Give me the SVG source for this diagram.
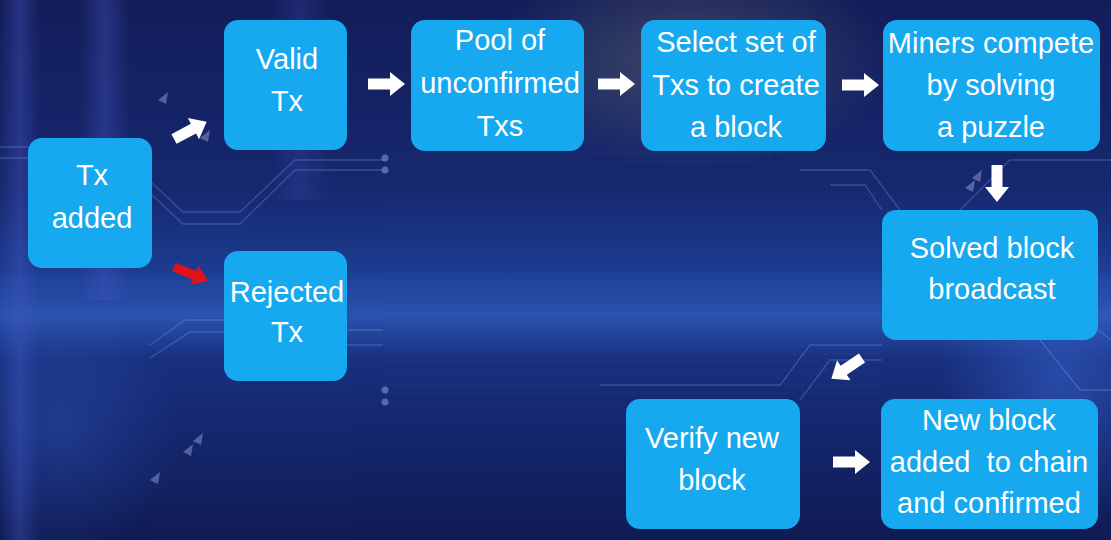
<svg xmlns="http://www.w3.org/2000/svg" width="1111" height="540" viewBox="0 0 1111 540">
  <defs>
    <linearGradient id="bg" x1="0" y1="0" x2="0" y2="1">
      <stop offset="0" stop-color="#131d5a"/>
      <stop offset="0.35" stop-color="#16286f"/>
      <stop offset="0.52" stop-color="#1d3e94"/>
      <stop offset="0.6" stop-color="#1a3586"/>
      <stop offset="0.8" stop-color="#14266d"/>
      <stop offset="1" stop-color="#0f1b54"/>
    </linearGradient>
    <linearGradient id="band" x1="0" y1="0" x2="0" y2="1">
      <stop offset="0" stop-color="#3a6ad0" stop-opacity="0"/>
      <stop offset="0.5" stop-color="#3f74dc" stop-opacity="0.45"/>
      <stop offset="1" stop-color="#3a6ad0" stop-opacity="0"/>
    </linearGradient>
    <linearGradient id="streak" x1="0" y1="0" x2="1" y2="0">
      <stop offset="0" stop-color="#4a5ac8" stop-opacity="0"/>
      <stop offset="0.5" stop-color="#4a5ac8" stop-opacity="0.35"/>
      <stop offset="1" stop-color="#4a5ac8" stop-opacity="0"/>
    </linearGradient>
    <radialGradient id="glow" cx="0.5" cy="0.5" r="0.5">
      <stop offset="0" stop-color="#8a8f70" stop-opacity="0.35"/>
      <stop offset="1" stop-color="#8a8f70" stop-opacity="0"/>
    </radialGradient>
    <radialGradient id="glow2" cx="0.5" cy="0.5" r="0.5">
      <stop offset="0" stop-color="#3d6fe0" stop-opacity="0.45"/>
      <stop offset="1" stop-color="#3d6fe0" stop-opacity="0"/>
    </radialGradient>
    <pattern id="dots" width="8" height="8" patternUnits="userSpaceOnUse">
      <circle cx="2" cy="2" r="1" fill="#8fb0ff" fill-opacity="0.1"/>
    </pattern>
    <path id="arr" d="M0,-5.5 H22 V-12 L37,0 L22,12 V5.5 H0 Z"/>
    <polygon id="tri" points="0,0 10,-8 8,4"/>
  </defs>
  <style>
    .box { fill: #16a9ef; }
    .lbl { font-family: "Liberation Sans", Arial, sans-serif; font-size: 29px; fill: #ffffff; text-anchor: middle; }
    .arrow { fill: #ffffff; }
    .red { fill: #e0121c; }
    .circ { fill: none; stroke: #9fb6ff; stroke-opacity: 0.25; stroke-width: 1.3; }
    .deco { fill: #8a94c8; fill-opacity: 0.55; }
  </style>

  <g id="background">
    <rect width="1111" height="540" fill="url(#bg)"/>
    <rect x="0" y="270" width="1111" height="90" fill="url(#band)"/>
    <rect x="0" y="0" width="40" height="540" fill="url(#streak)"/>
    <rect x="80" y="0" width="50" height="300" fill="url(#streak)"/>
    <rect x="270" y="0" width="60" height="200" fill="url(#streak)" opacity="0.6"/>
    <ellipse cx="690" cy="60" rx="200" ry="110" fill="url(#glow)"/>
    <ellipse cx="1060" cy="380" rx="120" ry="150" fill="url(#glow2)"/>
    <ellipse cx="60" cy="430" rx="120" ry="130" fill="url(#glow2)" opacity="0.6"/>
    <rect x="380" y="150" width="500" height="250" fill="url(#dots)"/>
    <rect x="150" y="380" width="200" height="160" fill="url(#dots)" opacity="0.6"/>
    <path class="circ" d="M0,147 H28 M0,158 H28"/>
    <path class="circ" d="M152,183 L183,212 H240 L295,160 H383 M152,195 L183,224 H240 L295,170 H383"/>
    <circle cx="385" cy="158" r="3.5" fill="#9fb6ff" fill-opacity="0.45"/>
    <circle cx="385" cy="170" r="3.5" fill="#9fb6ff" fill-opacity="0.45"/>
    <path class="circ" d="M150,345 L185,320 H224 M150,358 L190,332 H224"/>
    <path class="circ" d="M347,330 H383 M347,345 H383"/>
    <circle cx="385" cy="390" r="3.5" fill="#9fb6ff" fill-opacity="0.45"/>
    <circle cx="385" cy="402" r="3.5" fill="#9fb6ff" fill-opacity="0.45"/>
    <path class="circ" d="M800,170 H870 L900,210 M830,185 H865 L882,210"/>
    <path class="circ" d="M1098,330 L1111,340 M1040,340 L1080,390 H1111"/>
    <path class="circ" d="M800,400 L830,360 H882 M600,385 H780 L810,345 H882"/>
    <path class="circ" d="M960,210 L1010,160 H1111"/>
    <use href="#tri" class="deco" transform="translate(158,100)"/>
    <use href="#tri" class="deco" transform="translate(200,138)"/>
    <use href="#tri" class="deco" transform="translate(183,452)"/>
    <use href="#tri" class="deco" transform="translate(193,441)"/>
    <use href="#tri" class="deco" transform="translate(150,480)"/>
    <use href="#tri" class="deco" transform="translate(965,188)"/>
    <use href="#tri" class="deco" transform="translate(972,178)"/>
  </g>

  <g id="connectors">
    <use href="#arr" class="arrow" transform="translate(174,139) rotate(-28)"/>
    <use href="#arr" class="red" transform="translate(174,267) rotate(22) scale(1,0.85)"/>
    <use href="#arr" class="arrow" transform="translate(368,84)"/>
    <use href="#arr" class="arrow" transform="translate(598,84)"/>
    <use href="#arr" class="arrow" transform="translate(842,85)"/>
    <use href="#arr" class="arrow" transform="translate(997,165) rotate(90)"/>
    <use href="#arr" class="arrow" transform="translate(862,358) rotate(146)"/>
    <use href="#arr" class="arrow" transform="translate(833,462)"/>
  </g>

  <g id="node-tx-added">
    <rect class="box" x="28" y="138" width="124" height="130" rx="14"/>
    <text class="lbl" x="92" y="185">Tx</text>
    <text class="lbl" x="92" y="228">added</text>
  </g>
  <g id="node-valid-tx">
    <rect class="box" x="224" y="20" width="123" height="130" rx="14"/>
    <text class="lbl" x="287" y="69">Valid</text>
    <text class="lbl" x="287" y="111">Tx</text>
  </g>
  <g id="node-rejected-tx">
    <rect class="box" x="224" y="251" width="123" height="130" rx="14"/>
    <text class="lbl" x="287" y="302">Rejected</text>
    <text class="lbl" x="287" y="342">Tx</text>
  </g>
  <g id="node-pool">
    <rect class="box" x="411" y="20" width="173" height="131" rx="14"/>
    <text class="lbl" x="500" y="50">Pool of</text>
    <text class="lbl" x="500" y="93">unconfirmed</text>
    <text class="lbl" x="500" y="136">Txs</text>
  </g>
  <g id="node-select">
    <rect class="box" x="641" y="20" width="185" height="131" rx="14"/>
    <text class="lbl" x="736" y="52">Select set of</text>
    <text class="lbl" x="736" y="95">Txs to create</text>
    <text class="lbl" x="736" y="137">a block</text>
  </g>
  <g id="node-miners">
    <rect class="box" x="883" y="20" width="217" height="131" rx="14"/>
    <text class="lbl" x="991" y="53">Miners compete</text>
    <text class="lbl" x="991" y="95">by solving</text>
    <text class="lbl" x="991" y="137">a puzzle</text>
  </g>
  <g id="node-solved">
    <rect class="box" x="882" y="210" width="216" height="130" rx="14"/>
    <text class="lbl" x="992" y="258">Solved block</text>
    <text class="lbl" x="992" y="299">broadcast</text>
  </g>
  <g id="node-verify">
    <rect class="box" x="626" y="399" width="174" height="130" rx="14"/>
    <text class="lbl" x="712" y="448">Verify new</text>
    <text class="lbl" x="712" y="490">block</text>
  </g>
  <g id="node-new-block">
    <rect class="box" x="881" y="399" width="217" height="130" rx="14"/>
    <text class="lbl" x="989" y="430">New block</text>
    <text class="lbl" x="989" y="472">added&#160; to chain</text>
    <text class="lbl" x="989" y="513">and confirmed</text>
  </g>
</svg>
